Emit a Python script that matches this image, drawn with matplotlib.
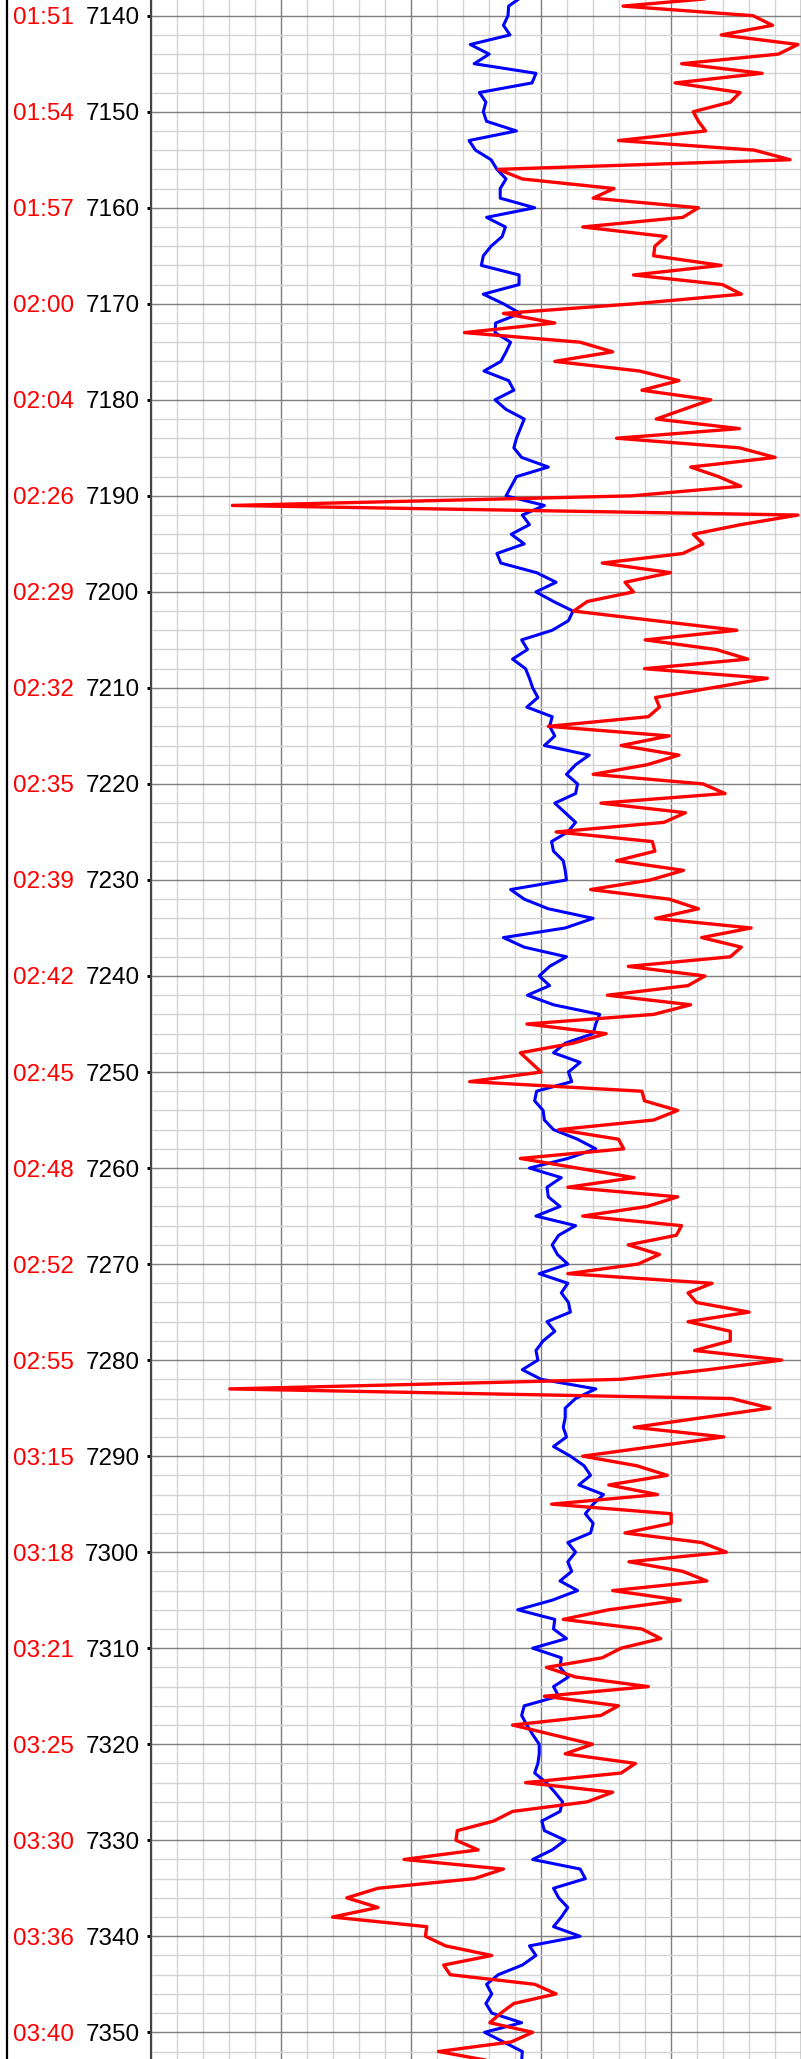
import matplotlib
matplotlib.use("Agg")
import matplotlib.pyplot as plt
from matplotlib.lines import Line2D
from matplotlib.ticker import MultipleLocator
import numpy as np

plt.rcParams['font.family'] = ['Liberation Sans', 'DejaVu Sans']

# depth of the first sample, one sample per depth unit
depth_start = 7138

red_curve = [
    89.5, 72.7, 92.7, 95.7, 87.8, 99.6, 96.6, 81.7, 94.1, 80.7,
    90.7, 89.2, 83.5, 84.3, 85.4, 72.0, 92.9, 98.4, 53.5, 57.2,
    71.3, 68.1, 84.3, 81.9, 66.5, 79.3, 77.6, 77.4, 87.8, 74.3,
    88.0, 90.9, 74.4, 54.3, 62.2, 48.3, 66.1, 71.1, 62.2, 75.2,
    81.3, 75.6, 86.2, 82.0, 77.8, 90.6, 71.7, 90.6, 96.1, 83.1,
    87.4, 90.8, 74.0, 12.6, 99.6, 90.8, 83.5, 85.0, 81.9, 69.5,
    80.0, 73.0, 74.3, 67.2, 65.1, 77.6, 90.2, 76.1, 87.0, 91.9,
    76.0, 94.9, 86.3, 77.7, 78.3, 76.6, 61.2, 79.8, 72.4, 81.3,
    76.4, 68.1, 85.0, 88.4, 69.3, 82.3, 79.0, 62.4, 77.2, 77.6,
    71.7, 82.0, 76.9, 67.7, 79.8, 84.3, 77.7, 92.4, 84.8, 90.9,
    89.2, 73.5, 85.3, 82.7, 70.3, 83.1, 77.4, 57.9, 70.1, 65.0,
    56.9, 58.5, 60.1, 49.1, 75.6, 76.0, 81.1, 77.4, 62.8, 72.0,
    72.8, 56.9, 65.7, 74.4, 64.2, 81.1, 76.4, 66.5, 81.7, 80.9,
    73.5, 78.3, 75.0, 64.2, 86.4, 82.7, 84.0, 92.1, 82.7, 89.2,
    89.2, 83.7, 97.1, 85.8, 72.4, 12.2, 89.4, 95.3, 84.8, 74.4,
    88.2, 77.4, 66.5, 74.8, 79.5, 70.5, 78.0, 61.7, 80.1, 80.1,
    73.0, 84.8, 88.6, 73.6, 81.9, 85.6, 71.1, 81.5, 70.5, 63.5,
    75.6, 78.5, 72.4, 69.5, 60.9, 65.4, 76.6, 60.6, 72.0, 69.3,
    55.7, 61.8, 68.0, 63.8, 74.6, 72.4, 57.7, 71.1, 67.2, 55.7,
    52.8, 47.2, 47.0, 50.4, 39.0, 54.3, 49.8, 35.0, 30.2, 35.0,
    28.0, 42.5, 42.3, 45.4, 52.5, 45.1, 46.1, 59.1, 62.4, 55.9,
    53.9, 52.2, 58.8, 55.5, 44.3, 52.4,
]

blue_curve = [
    57.2, 55.1, 55.0, 54.3, 55.3, 49.2, 52.1, 49.8, 59.3, 58.7,
    50.6, 51.6, 51.2, 51.7, 56.3, 49.0, 50.0, 52.4, 53.3, 54.7,
    53.8, 53.8, 59.1, 51.7, 54.6, 54.1, 52.4, 51.2, 50.9, 56.7,
    56.7, 51.2, 54.3, 56.9, 53.1, 53.0, 55.4, 54.7, 53.9, 51.3,
    55.1, 55.9, 53.0, 54.7, 57.5, 56.9, 56.3, 55.9, 57.1, 61.2,
    56.3, 55.5, 54.7, 60.6, 57.2, 58.3, 55.5, 57.5, 53.3, 53.9,
    59.4, 62.4, 59.3, 62.0, 65.0, 64.3, 61.8, 57.1, 58.0, 55.7,
    57.7, 58.3, 58.8, 59.6, 57.9, 61.8, 61.4, 62.2, 60.6, 67.5,
    65.4, 64.0, 65.7, 65.4, 62.2, 63.8, 65.4, 64.2, 61.7, 62.0,
    63.5, 63.8, 64.0, 55.4, 57.5, 61.2, 68.1, 63.8, 54.3, 57.5,
    64.0, 61.4, 59.8, 61.4, 58.0, 62.0, 69.1, 68.5, 68.1, 63.8,
    62.0, 66.1, 64.3, 64.8, 59.4, 59.1, 60.4, 60.6, 62.0, 65.7,
    68.5, 64.2, 58.3, 63.2, 61.0, 61.2, 63.0, 59.3, 65.4, 62.8,
    61.8, 62.6, 64.2, 59.8, 64.2, 63.2, 64.3, 64.6, 61.0, 62.2,
    60.4, 59.3, 59.6, 57.2, 60.1, 68.5, 65.4, 63.8, 63.8, 63.5,
    64.0, 62.0, 64.6, 66.7, 67.7, 65.9, 69.7, 68.1, 66.9, 68.1,
    67.7, 64.2, 65.4, 64.2, 64.8, 63.0, 65.7, 61.8, 56.5, 62.2,
    62.0, 64.0, 58.8, 63.2, 63.0, 64.3, 62.0, 62.8, 57.5, 57.1,
    57.9, 58.8, 59.8, 59.8, 59.6, 59.1, 60.9, 62.2, 63.4, 63.0,
    60.2, 60.6, 63.8, 61.8, 58.8, 66.1, 66.9, 62.0, 62.8, 64.2,
    63.2, 62.0, 66.1, 58.3, 59.3, 57.2, 53.5, 51.7, 52.5, 51.6,
    52.5, 57.1, 51.4, 54.3, 57.2, 57.1,
]

depth_ticks = list(range(7140, 7351, 10))
time_labels = ['01:51', '01:54', '01:57', '02:00', '02:04', '02:26',
               '02:29', '02:32', '02:35', '02:39', '02:42', '02:45',
               '02:48', '02:52', '02:55', '03:15', '03:18', '03:21',
               '03:25', '03:30', '03:36', '03:40']

depth = np.arange(depth_start, depth_start + len(red_curve))

W, H = 801, 2059
fig = plt.figure(figsize=(W / 100, H / 100), dpi=100)
ax = fig.add_axes([150.5 / W, 0, 650 / W, 1])

ax.plot(blue_curve, depth, color='#0000ff', lw=2.2, zorder=3)
ax.plot(red_curve, depth, color='#ff0000', lw=2.4, zorder=4)

ax.set_xlim(0, 100)
ax.set_ylim(7352.78, 7138.365)

ax.xaxis.set_major_locator(MultipleLocator(20))
ax.xaxis.set_minor_locator(MultipleLocator(4))
ax.set_yticks(depth_ticks)
ax.set_yticklabels([str(d) for d in depth_ticks])
ax.yaxis.set_minor_locator(MultipleLocator(2))

ax.set_axisbelow(True)
ax.grid(which='minor', color='#d4d4d4', lw=1.0)
ax.grid(which='major', color='#7f7f7f', lw=1.0)

ax.tick_params(axis='x', which='both', length=0, labelbottom=False)
ax.tick_params(axis='y', which='major', length=3, width=2.2, pad=5,
               labelsize=17.5, colors='black')
ax.tick_params(axis='y', which='minor', length=0)

for side in ['top', 'bottom']:
    ax.spines[side].set_visible(False)
ax.spines['left'].set_color('#444444')
ax.spines['left'].set_linewidth(1.5)
ax.spines['right'].set_color('#7f7f7f')
ax.spines['right'].set_linewidth(1.0)

# time stamps to the left of the depth labels
trans = ax.get_yaxis_transform()
for d, t in zip(depth_ticks, time_labels):
    ax.text((12.5 - 150.5) / 650, d, t, transform=trans, color='#ff0000',
            fontsize=17.5, ha='left', va='center_baseline', clip_on=False)

# track border on the far left
fig.add_artist(Line2D([7.3 / W, 7.3 / W], [0, 1], transform=fig.transFigure,
                      color='black', lw=1.6))

fig.savefig('out.png', dpi=100)
